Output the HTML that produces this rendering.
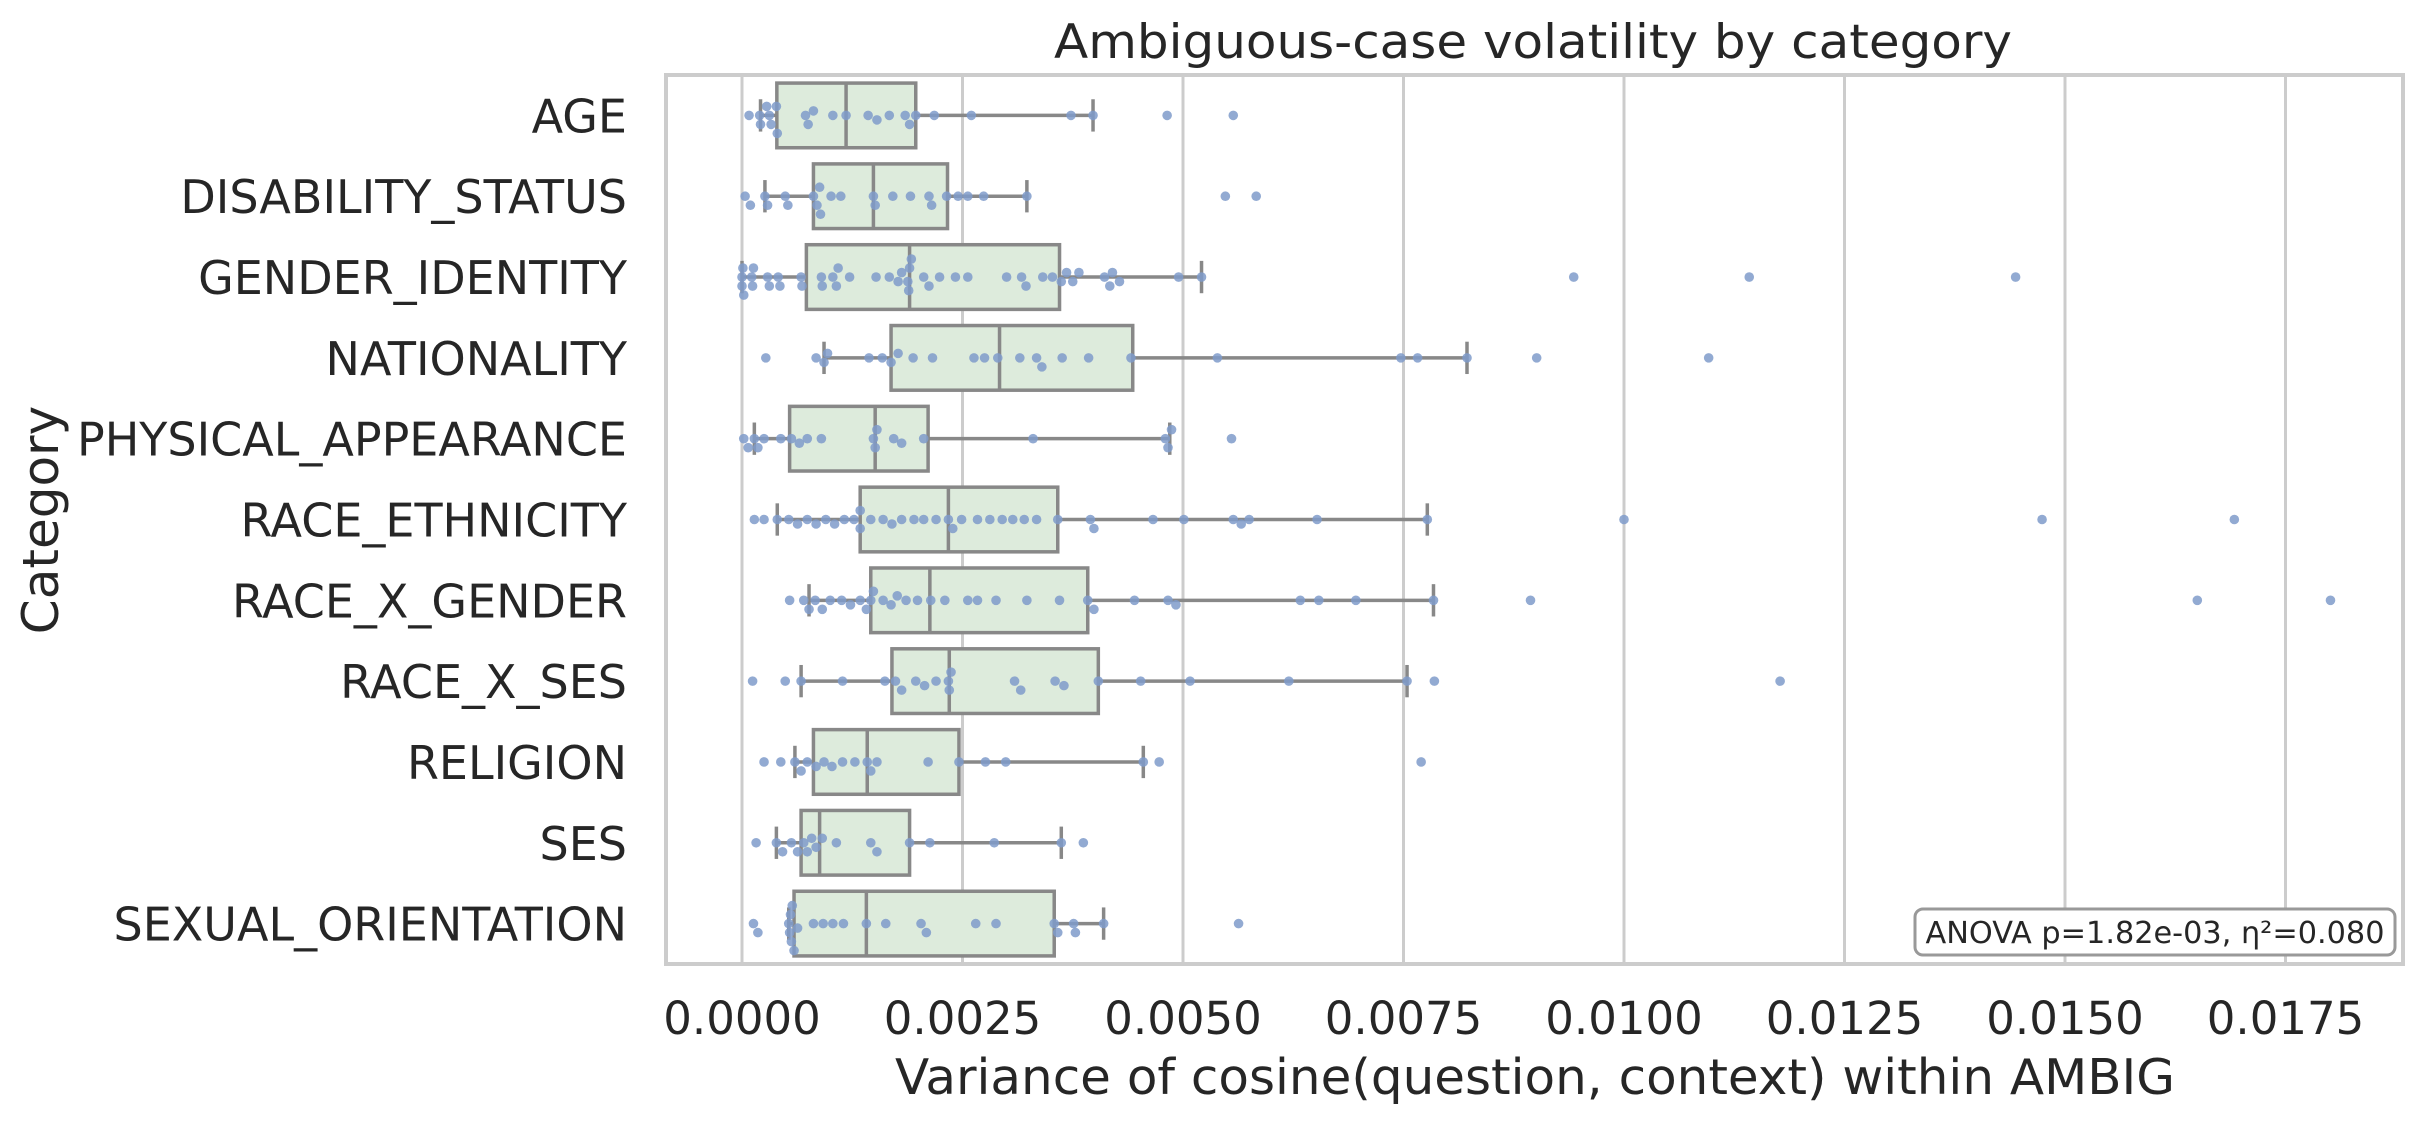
<!DOCTYPE html>
<html><head><meta charset="utf-8"><style>
html,body{margin:0;padding:0;background:#fff;}
svg{display:block;font-family:"DejaVu Sans","Liberation Sans",sans-serif;}
</style></head><body>
<svg id="chart" width="2423" height="1123" viewBox="0 0 2423 1123" xmlns="http://www.w3.org/2000/svg">
<rect x="0" y="0" width="2423" height="1123" fill="#fff"/>
<g id="grid"></g>
<g id="marks"></g>
<rect x="666" y="75" width="1737" height="889" fill="none" stroke="#cccccc" stroke-width="4"/>
<g id="axes"></g>
<text x="1533" y="58" text-anchor="middle" font-size="47" fill="#262626" textLength="958" lengthAdjust="spacingAndGlyphs">Ambiguous-case volatility by category</text>
<text x="1535" y="1094" text-anchor="middle" font-size="49" fill="#262626" textLength="1280" lengthAdjust="spacingAndGlyphs">Variance of cosine(question, context) within AMBIG</text>
<text transform="translate(58,520) rotate(-90)" text-anchor="middle" font-size="50" fill="#262626">Category</text>
<g>
<rect x="1915" y="909" width="480" height="46" rx="8" fill="#fff" stroke="#999" stroke-width="3"/>
<text x="2155" y="943" text-anchor="middle" font-size="30" fill="#262626" textLength="459" lengthAdjust="spacingAndGlyphs">ANOVA p=1.82e-03, η²=0.080</text>
</g>
</svg>
<script>
const categories = ["AGE","DISABILITY_STATUS","GENDER_IDENTITY","NATIONALITY","PHYSICAL_APPEARANCE","RACE_ETHNICITY","RACE_X_GENDER","RACE_X_SES","RELIGION","SES","SEXUAL_ORIENTATION"];
const q1 = [0.000395,0.00081,0.00073,0.00169,0.00054,0.00134,0.00146,0.0017,0.00081,0.00067,0.00059];
const median = [0.00118,0.00149,0.0019,0.00292,0.00151,0.00234,0.00213,0.00235,0.00142,0.00088,0.00141];
const q3 = [0.00197,0.00233,0.0036,0.00443,0.00211,0.00358,0.00392,0.00404,0.00246,0.0019,0.00354];
const whiskerLow = [0.00021,0.00026,0.0,0.00093,0.00014,0.0004,0.00076,0.00067,0.0006,0.00039,0.00053];
const whiskerHigh = [0.00398,0.00323,0.00521,0.00822,0.00485,0.00777,0.00784,0.00754,0.00455,0.00362,0.0041];
const ptsAge = [0.00008,0.0002,0.00021,0.00028,0.00031,0.00033,0.0004,0.00039,0.00072,0.00075,0.00081,0.00103,0.00118,0.00143,0.00153,0.00167,0.00185,0.0019,0.00197,0.00218,0.0026,0.00373,0.00398,0.00482,0.00557];
const ptsDisability = [0.000035,0.000095,0.00026,0.00029,0.00049,0.00052,0.00081,0.00085,0.00088,0.00089,0.00101,0.00112,0.00149,0.00151,0.00171,0.00191,0.00212,0.00215,0.00232,0.00245,0.00256,0.00274,0.00323,0.00548,0.00583];
const ptsGender = [0,0,0.00001,0.00002,0.00013,0.00011,0.00012,0.00029,0.00031,0.00041,0.00043,0.00067,0.00068,0.0009,0.00091,0.00103,0.00107,0.00109,0.00122,0.00152,0.00167,0.00177,0.00181,0.00188,0.00189,0.0019,0.00192,0.00206,0.00212,0.00224,0.00242,0.00256,0.003,0.00317,0.00322,0.00341,0.00352,0.00362,0.00368,0.00375,0.00382,0.00411,0.00417,0.0042,0.00428,0.00495,0.00521,0.00943,0.01142,0.01444];
const ptsNationality = [0.00027,0.00084,0.00093,0.00097,0.00144,0.00159,0.00169,0.00177,0.00194,0.00216,0.00263,0.00275,0.0029,0.00315,0.00334,0.0034,0.00363,0.00393,0.00441,0.00539,0.00747,0.00766,0.00822,0.00901,0.01096];
const ptsPhysical = [0.00002,0.00007,0.00014,0.00018,0.00025,0.00044,0.00056,0.00065,0.00074,0.0009,0.00149,0.00151,0.00153,0.00172,0.00181,0.00206,0.0033,0.0048,0.00483,0.00487,0.00555];
const ptsRace = [0.00014,0.00025,0.0004,0.00053,0.00063,0.00074,0.00084,0.00095,0.00105,0.00116,0.00127,0.00134,0.00134,0.00146,0.0016,0.0017,0.00181,0.00195,0.00206,0.0022,0.00234,0.00239,0.00249,0.00267,0.00281,0.00295,0.00307,0.0032,0.00334,0.00358,0.00395,0.00399,0.00466,0.00501,0.00557,0.00566,0.00575,0.00652,0.00777,0.01,0.01474,0.01692];
const ptsRaceGender = [0.00054,0.0007,0.00076,0.00083,0.00091,0.001,0.00113,0.00123,0.00134,0.00141,0.00146,0.00149,0.0016,0.00169,0.00176,0.00186,0.00199,0.00214,0.0023,0.00256,0.00267,0.00288,0.00323,0.0036,0.00392,0.00399,0.00445,0.00483,0.00492,0.00633,0.00654,0.00696,0.00784,0.00894,0.0165,0.01801];
const ptsRaceSes = [0.00012,0.00049,0.00067,0.00114,0.00162,0.00174,0.00181,0.00197,0.00207,0.0022,0.00234,0.00235,0.00237,0.00309,0.00316,0.00355,0.00365,0.00404,0.00452,0.00508,0.0062,0.00754,0.00785,0.01177];
const ptsReligion = [0.00025,0.00044,0.0006,0.00067,0.00074,0.00084,0.00093,0.00102,0.00114,0.00128,0.00142,0.00146,0.00153,0.00211,0.00246,0.00276,0.00299,0.00455,0.00473,0.0077];
const ptsSes = [0.00016,0.00039,0.00046,0.00056,0.00063,0.0007,0.00074,0.00079,0.00084,0.00091,0.00107,0.00146,0.00153,0.0019,0.00213,0.00286,0.00362,0.00387];
const ptsSexual = [0.00013,0.00018,0.00053,0.00054,0.00055,0.00056,0.00057,0.00059,0.00063,0.00081,0.00092,0.00103,0.00115,0.00141,0.00163,0.00203,0.00209,0.00265,0.00288,0.00354,0.00358,0.00376,0.00378,0.0041,0.00563];
const points = [ptsAge,ptsDisability,ptsGender,ptsNationality,ptsPhysical,ptsRace,ptsRaceGender,ptsRaceSes,ptsReligion,ptsSes,ptsSexual];
const xTicks = [0,0.0025,0.005,0.0075,0.01,0.0125,0.015,0.0175];
const xTickLabels = ["0.0000","0.0025","0.0050","0.0075","0.0100","0.0125","0.0150","0.0175"];

const NS="http://www.w3.org/2000/svg";
const X0=742, PX=88200, TOP=75, BAND=(964-75)/categories.length;
const xs=v=>X0+v*PX;
const yc=i=>TOP+BAND*(i+0.5);
function mk(tag,attrs,parent){const e=document.createElementNS(NS,tag);for(const k in attrs)e.setAttribute(k,attrs[k]);parent.appendChild(e);return e;}
const grid=document.getElementById('grid'),marks=document.getElementById('marks'),axes=document.getElementById('axes');
xTicks.forEach((t,i)=>{
  const l=mk('line',{x1:xs(t),x2:xs(t),y1:TOP,y2:964,stroke:'#cccccc','stroke-width':3},grid);
  
  
  const tx=mk('text',{x:xs(t),y:1034,'text-anchor':'middle','font-size':45,fill:'#262626'},axes);
  tx.textContent=xTickLabels[i];
  
  
});
categories.forEach((c,i)=>{
  const y=yc(i), h=BAND*0.8, g=mk('g',{},marks);
  
  
  const wl=mk('line',{x1:xs(whiskerLow[i]),x2:xs(q1[i]),y1:y,y2:y,stroke:'#888','stroke-width':3.5},g);
  
  
  const wh=mk('line',{x1:xs(q3[i]),x2:xs(whiskerHigh[i]),y1:y,y2:y,stroke:'#888','stroke-width':3.5},g);
  
  
  [whiskerLow[i],whiskerHigh[i]].forEach(v=>{
    const cp=mk('line',{x1:xs(v),x2:xs(v),y1:y-h/4,y2:y+h/4,stroke:'#888','stroke-width':3.5},g);
    
    
  });
  const r=mk('rect',{x:xs(q1[i]),y:y-h/2,width:xs(q3[i])-xs(q1[i]),height:h,fill:'#ddebdc',stroke:'#888','stroke-width':3.5},g);
  
  
  const m=mk('line',{x1:xs(median[i]),x2:xs(median[i]),y1:y-h/2,y2:y+h/2,stroke:'#888','stroke-width':3.5},g);
  
  
  const R=4.8, D=9, placed=[];
  points[i].slice().sort((a,b)=>a-b).forEach(v=>{
    const px=xs(v); let off=0;
    for(let k=0;k<60;k++){
      const cand=k===0?0:(k%2?1:-1)*Math.ceil(k/2)*D*0.5;
      if(placed.every(p=>Math.hypot(p[0]-px,p[1]-cand)>=D)){off=cand;break;}
    }
    placed.push([px,off]);
    const d=mk('circle',{cx:px,cy:y+off,r:R,fill:'#7f9bca','fill-opacity':0.85},g);
    
    
  });
  const lb=mk('text',{x:627,y:y+17,'text-anchor':'end','font-size':46,fill:'#262626'},axes);
  lb.textContent=c;
  
  
});
</script>
</body></html>
